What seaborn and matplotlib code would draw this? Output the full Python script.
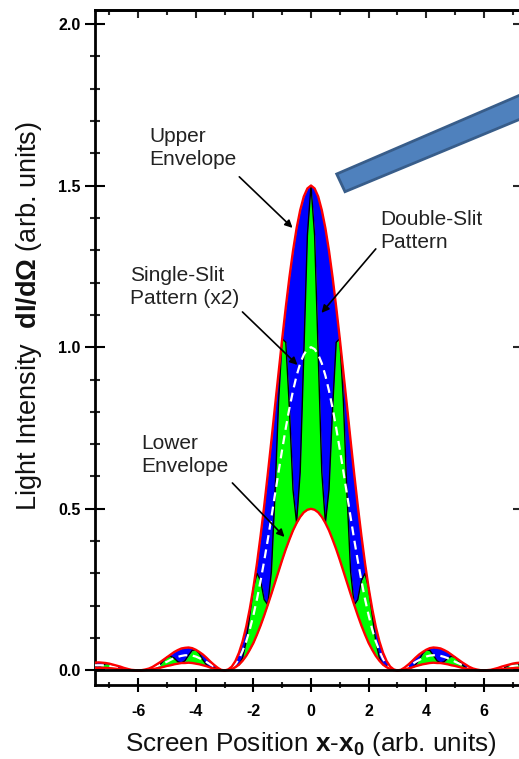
import numpy as np
import pandas as pd
import matplotlib
matplotlib.use("Agg")
import matplotlib.pyplot as plt
import seaborn as sns
from matplotlib.ticker import MultipleLocator, FixedLocator
from matplotlib.patches import Polygon

# ---------------- data (half profile x >= 0, step 0.125) ----
x_half = [round(0.125 * i, 3) for i in range(61)]

single_slit_x2_half = [
    1.000, 0.994, 0.977, 0.950, 0.912, 0.865, 0.811, 0.750,
    0.684, 0.615, 0.545, 0.474, 0.405, 0.339, 0.278, 0.221,
    0.171, 0.127, 0.090, 0.060, 0.036, 0.019, 0.008, 0.002,
    0.000, 0.002, 0.006, 0.012, 0.019, 0.026, 0.032, 0.038,
    0.043, 0.046, 0.047, 0.047, 0.045, 0.042, 0.038, 0.033,
    0.027, 0.022, 0.017, 0.012, 0.008, 0.004, 0.002, 0.000,
    0.000, 0.000, 0.002, 0.003, 0.005, 0.008, 0.010, 0.012,
    0.014, 0.015, 0.016, 0.016, 0.016]

double_slit_half = [
    1.500, 1.346, 0.977, 0.614, 0.456, 0.559, 0.811, 1.015,
    1.026, 0.832, 0.545, 0.306, 0.203, 0.219, 0.278, 0.300,
    0.256, 0.172, 0.090, 0.039, 0.018, 0.013, 0.008, 0.003,
    0.000, 0.002, 0.006, 0.008, 0.009, 0.017, 0.032, 0.052,
    0.064, 0.062, 0.047, 0.030, 0.023, 0.027, 0.038, 0.044,
    0.041, 0.030, 0.017, 0.008, 0.004, 0.003, 0.002, 0.001,
    0.000, 0.001, 0.002, 0.002, 0.003, 0.005, 0.010, 0.016,
    0.021, 0.021, 0.016, 0.011, 0.008]

upper_env_half = [
    1.500, 1.491, 1.466, 1.424, 1.368, 1.298, 1.216, 1.124,
    1.026, 0.922, 0.817, 0.711, 0.608, 0.509, 0.417, 0.332,
    0.256, 0.191, 0.135, 0.090, 0.055, 0.029, 0.012, 0.003,
    0.000, 0.002, 0.009, 0.018, 0.028, 0.039, 0.049, 0.057,
    0.064, 0.069, 0.071, 0.070, 0.068, 0.063, 0.057, 0.049,
    0.041, 0.033, 0.025, 0.018, 0.011, 0.006, 0.003, 0.001,
    0.000, 0.001, 0.002, 0.005, 0.008, 0.012, 0.015, 0.018,
    0.021, 0.023, 0.024, 0.025, 0.024]

lower_env_half = [
    0.500, 0.497, 0.489, 0.475, 0.456, 0.433, 0.405, 0.375,
    0.342, 0.307, 0.272, 0.237, 0.203, 0.170, 0.139, 0.111,
    0.085, 0.064, 0.045, 0.030, 0.018, 0.010, 0.004, 0.001,
    0.000, 0.001, 0.003, 0.006, 0.009, 0.013, 0.016, 0.019,
    0.021, 0.023, 0.024, 0.023, 0.023, 0.021, 0.019, 0.016,
    0.014, 0.011, 0.008, 0.006, 0.004, 0.002, 0.001, 0.000,
    0.000, 0.000, 0.001, 0.002, 0.003, 0.004, 0.005, 0.006,
    0.007, 0.008, 0.008, 0.008, 0.008]

x_tick_vals = [-6, -4, -2, 0, 2, 4, 6]
x_tick_labels = ["-6", "-4", "-2", "0", "2", "4", "6"]
y_tick_vals = [0.0, 0.5, 1.0, 1.5, 2.0]
y_tick_labels = ["0.0", "0.5", "1.0", "1.5", "2.0"]


def mirror(half, negate=False):
    left = [(-v if negate else v) for v in half[::-1][:-1]]
    return left + list(half)


df = pd.DataFrame({
    "x": mirror(x_half, negate=True),
    "single": mirror(single_slit_x2_half),
    "double": mirror(double_slit_half),
    "upper": mirror(upper_env_half),
    "lower": mirror(lower_env_half),
})

# ---------------- style ----------------
sns.set_theme(style="ticks")
plt.rcParams["font.family"] = ["Liberation Sans", "DejaVu Sans"]
plt.rcParams["mathtext.fontset"] = "custom"
plt.rcParams["mathtext.rm"] = "Liberation Sans"
plt.rcParams["mathtext.bf"] = "Liberation Sans:bold"
plt.rcParams["mathtext.it"] = "Liberation Sans:italic"
plt.rcParams["axes.unicode_minus"] = False

W, H = 519, 759
fig = plt.figure(figsize=(W / 100, H / 100), dpi=100)
fig.patch.set_facecolor("white")
ax = fig.add_axes([95 / W, 1 - 685 / H, 432 / W, 675 / H])
ax.set_facecolor("white")

# fills
ax.fill_between(df["x"], df["lower"], df["double"], color="#00FF00", lw=0, zorder=1)
ax.fill_between(df["x"], df["double"], df["upper"], color="#0000FF", lw=0, zorder=1)

# lines
sns.lineplot(data=df, x="x", y="double", ax=ax, color="black", lw=1.0,
             estimator=None, zorder=3)
sns.lineplot(data=df, x="x", y="single", ax=ax, color="white", lw=1.6,
             estimator=None, zorder=4, dashes=False, linestyle=(0, (4, 2.5)))
sns.lineplot(data=df, x="x", y="upper", ax=ax, color="red", lw=1.7,
             estimator=None, zorder=5)
sns.lineplot(data=df, x="x", y="lower", ax=ax, color="red", lw=1.7,
             estimator=None, zorder=5)

ax.axhline(0, color="black", lw=2, zorder=6)

ax.set_xlim(-7.5, 7.5)
ax.set_ylim(-0.045, 2.043)

for s in ax.spines.values():
    s.set_linewidth(2)
    s.set_color("black")

ax.xaxis.set_major_locator(FixedLocator(x_tick_vals))
ax.set_xticklabels(x_tick_labels, fontweight="bold", fontsize=11.5)
ax.xaxis.set_minor_locator(MultipleLocator(1))
ax.yaxis.set_major_locator(FixedLocator(y_tick_vals))
ax.set_yticklabels(y_tick_labels, fontweight="bold", fontsize=11.5)
ax.yaxis.set_minor_locator(MultipleLocator(0.1))

ax.tick_params(axis="x", which="major", direction="inout", length=10, width=1.5,
               pad=8.5, colors="black")
ax.tick_params(axis="x", which="minor", direction="inout", length=5, width=1.5)
ax.tick_params(axis="y", which="major", direction="inout", length=14, width=1.5,
               pad=3.5, colors="black")
ax.tick_params(axis="y", which="minor", direction="inout", length=7, width=1.5)

secx = ax.secondary_xaxis("top")
secx.xaxis.set_major_locator(FixedLocator(x_tick_vals))
secx.xaxis.set_minor_locator(MultipleLocator(1))
secx.tick_params(axis="x", which="major", direction="in", length=6, width=1.5,
                 labeltop=False)
secx.tick_params(axis="x", which="minor", direction="in", length=3.5, width=1.5)
secx.spines["top"].set_linewidth(2)

secy = ax.secondary_yaxis("right")
secy.yaxis.set_major_locator(FixedLocator(y_tick_vals))
secy.yaxis.set_minor_locator(MultipleLocator(0.1))
secy.tick_params(axis="y", which="major", direction="in", length=10, width=1.5,
                 labelright=False)
secy.tick_params(axis="y", which="minor", direction="in", length=4, width=1.5)

ax.set_xlabel("Screen Position $\\mathbf{x}$-$\\mathbf{x_0}$ (arb. units)",
              fontsize=18.8, color="#111111")
ax.xaxis.set_label_coords(0.5, -0.066)
ax.set_ylabel("Light Intensity  $\\mathbf{dI/d\\Omega}$ (arb. units)",
              fontsize=19.5, color="#111111")
ax.yaxis.set_label_coords(-0.118, 0.547)

# annotations
tfs = 15
ax.text(-5.62, 1.68, "Upper\nEnvelope", fontsize=tfs, ha="left", va="top",
        linespacing=1.25, color="#222222")
ax.text(2.4, 1.425, "Double-Slit\nPattern", fontsize=tfs, ha="left", va="top",
        linespacing=1.25, color="#222222")
ax.text(-6.28, 1.25, "Single-Slit\nPattern (x2)", fontsize=tfs, ha="left", va="top",
        linespacing=1.25, color="#222222")
ax.text(-5.9, 0.73, "Lower\nEnvelope", fontsize=tfs, ha="left", va="top",
        linespacing=1.25, color="#222222")

arrow_kw = dict(arrowstyle="-|>", color="black", lw=1.2, mutation_scale=11,
                shrinkA=0, shrinkB=0)
ax.annotate("", xy=(-0.64, 1.369), xytext=(-2.49, 1.527), arrowprops=arrow_kw, zorder=8)
ax.annotate("", xy=(0.365, 1.106), xytext=(2.25, 1.304), arrowprops=arrow_kw, zorder=8)
ax.annotate("", xy=(-0.47, 0.945), xytext=(-2.38, 1.109), arrowprops=arrow_kw, zorder=8)
ax.annotate("", xy=(-0.92, 0.413), xytext=(-2.73, 0.58), arrowprops=arrow_kw, zorder=8)

# decorative thick pointer band (upper right)
band_px = [(336.7, 174.0), (345.0, 191.7), (570.0, 98.5), (562.0, 77.0)]
band = Polygon([(px / W, 1 - py / H) for px, py in band_px], closed=True,
               transform=fig.transFigure, facecolor="#4F81BD", edgecolor="#385D8A",
               lw=2, zorder=20, clip_on=False)
fig.add_artist(band)

fig.savefig("out.png", dpi=100, facecolor="white")
